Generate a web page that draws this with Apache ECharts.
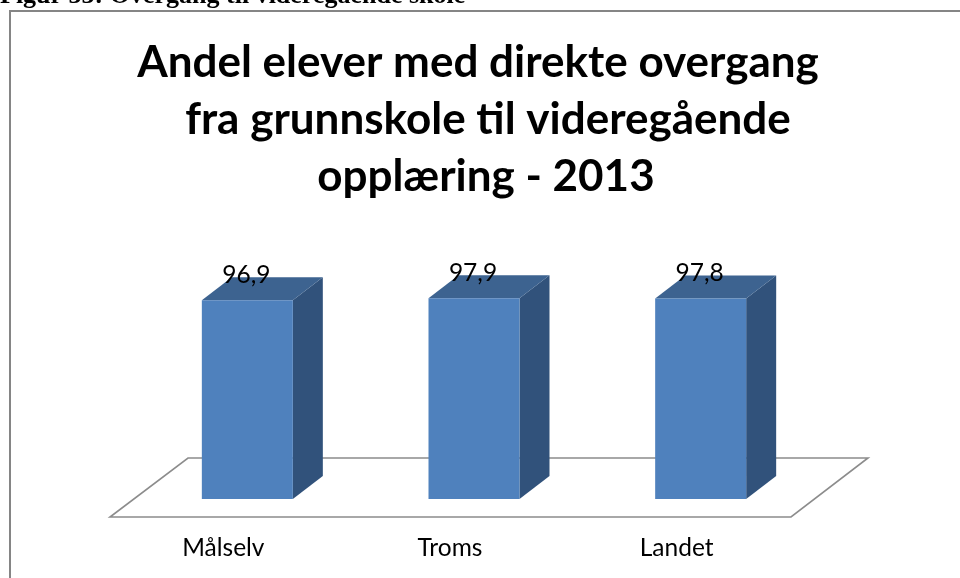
<!DOCTYPE html>
<html>
<head>
<meta charset="utf-8">
<script src="https://cdn.jsdelivr.net/npm/echarts@6/dist/echarts.min.js"></script>
<style>
  html, body { margin: 0; padding: 0; background: #ffffff; }
  #chart { width: 960px; height: 578px; }
</style>
</head>
<body>
<div id="chart"></div>
<script>
// Share of pupils going directly from lower to upper secondary school, 2013
const categories = ['Målselv', 'Troms', 'Landet'];
const values = [96.9, 97.9, 97.8];
const captionText = 'Figur 33: Overgang til videregående skole';
const titleLines = ['Andel elever med direkte overgang', 'fra grunnskole til videregående', 'opplæring - 2013'];

const FONT = 'Lato, "Open Sans", sans-serif';
const BAR_W = 91;            // front face width
const DEPTH = [30, -23];     // 3D depth offset of each bar
const FLOOR_FRONT = [-24, 18];
const FLOOR_BACK = [54, -41];

const fmt = v => String(v).replace('.', ',');

const chart = echarts.init(document.getElementById('chart'), null, { renderer: 'canvas' });

const option = {
  backgroundColor: '#ffffff',
  animation: false,
  grid: { left: 134, right: 146, top: 294, bottom: 79, containLabel: false },
  xAxis: {
    type: 'category',
    data: categories,
    axisLine: { show: false },
    axisTick: { show: false },
    axisLabel: {
      margin: 37,
      fontFamily: FONT,
      fontSize: 24.5,
      color: '#000000',
      padding: [0, 48, 0, 0]
    }
  },
  yAxis: {
    type: 'value',
    min: 0,
    max: 100,
    show: false,
    splitLine: { show: false }
  },
  graphic: [
    {
      type: 'rect',
      shape: { x: 10, y: 11, width: 1000, height: 620 },
      style: { fill: 'none', stroke: '#858585', lineWidth: 2 },
      z: 0
    },
    {
      type: 'text',
      x: 0, y: 9,
      style: {
        text: captionText,
        font: 'bold 26px "Liberation Serif", serif',
        fill: '#000000',
        verticalAlign: 'bottom'
      }
    },
    {
      type: 'text', x: 478, y: 85,
      style: { text: titleLines[0], font: 'bold 44px ' + FONT, fill: '#000', align: 'center', verticalAlign: 'bottom' }
    },
    {
      type: 'text', x: 488, y: 142,
      style: { text: titleLines[1], font: 'bold 44px ' + FONT, fill: '#000', align: 'center', verticalAlign: 'bottom' }
    },
    {
      type: 'text', x: 486, y: 199,
      style: { text: titleLines[2], font: 'bold 44px ' + FONT, fill: '#000', align: 'center', verticalAlign: 'bottom' }
    }
  ],
  series: [
    {
      // floor plane under the bars
      type: 'custom',
      z: 1,
      silent: true,
      data: [[0, 0]],
      renderItem: function (params, api) {
        const cs = params.coordSys;
        const y0 = cs.y + cs.height;
        const x0 = cs.x, x1 = cs.x + cs.width;
        return {
          type: 'polygon',
          shape: {
            points: [
              [x0 + FLOOR_FRONT[0], y0 + FLOOR_FRONT[1]],
              [x1 + FLOOR_FRONT[0] + 1, y0 + FLOOR_FRONT[1]],
              [x1 + FLOOR_BACK[0], y0 + FLOOR_BACK[1]],
              [x0 + FLOOR_BACK[0], y0 + FLOOR_BACK[1]]
            ]
          },
          style: { fill: '#ffffff', stroke: '#8c8c8c', lineWidth: 1.6 }
        };
      }
    },
    {
      // 3D columns
      type: 'custom',
      z: 2,
      data: values.map((v, i) => [i, v]),
      renderItem: function (params, api) {
        const idx = api.value(0);
        const v = api.value(1);
        const top = api.coord([idx, v]);
        const base = api.coord([idx, 0]);
        const xl = top[0] - BAR_W / 2;
        const xr = top[0] + BAR_W / 2;
        const dx = DEPTH[0], dy = DEPTH[1];
        return {
          type: 'group',
          children: [
            {
              type: 'polygon',
              shape: { points: [[xr, top[1]], [xr + dx, top[1] + dy], [xr + dx, base[1] + dy], [xr, base[1]]] },
              style: { fill: '#31527b' }
            },
            {
              type: 'polygon',
              shape: { points: [[xl, top[1]], [xr, top[1]], [xr + dx, top[1] + dy], [xl + dx, top[1] + dy]] },
              style: { fill: '#3d6390' }
            },
            {
              type: 'rect',
              shape: { x: xl, y: top[1], width: BAR_W, height: base[1] - top[1] },
              style: { fill: '#4f81bd' }
            },
            {
              type: 'text',
              x: top[0] - 1,
              y: top[1] - 13,
              style: {
                text: fmt(v),
                font: '24.5px ' + FONT,
                fill: '#000000',
                align: 'center',
                verticalAlign: 'bottom'
              }
            }
          ]
        };
      }
    }
  ]
};

chart.setOption(option);
</script>
</body>
</html>
